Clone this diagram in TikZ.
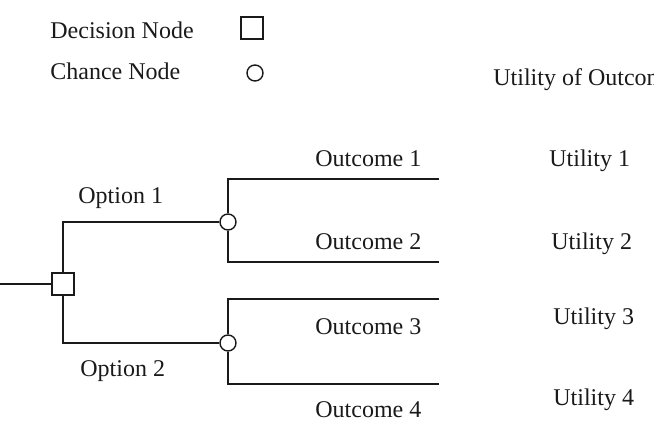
\documentclass[tikz,border=0pt]{standalone}
\usepackage{fontspec}
\setmainfont{Liberation Serif}
\usetikzlibrary{positioning}
\definecolor{TreeInk}{HTML}{1A1A1A}
\tikzset{
  decisionbox/.style={draw=TreeInk, fill=white, line width=0.7pt, rectangle, minimum size=11pt, inner sep=0pt},
  chancedot/.style={draw=TreeInk, fill=white, line width=0.7pt, circle, minimum size=8pt, inner sep=0pt},
  branch/.style={draw=TreeInk, line width=0.7pt},
  treelabel/.style={anchor=base west, inner sep=0pt, text=TreeInk, font=\fontsize{12pt}{14pt}\selectfont}
}

\begin{document}
\begin{tikzpicture}[x=0.5pt, y=-0.5pt]
  \clip (0,0) rectangle (654,426);
  % legend
  \node[treelabel] (legdec) at (50,39) {Decision Node};
  \node[decisionbox] (legbox) at (252,28) {};
  \node[treelabel] (legchance) at (50,80) {Chance Node};
  \node[chancedot] (legdot) at (255,73) {};
  \node[treelabel] (utilhead) at (493,86) {Utility of Outcome};
  % tree: branch ends
  \coordinate (root) at (0,284);
  \coordinate (end1) at (439,179);
  \coordinate (end2) at (439,262);
  \coordinate (end3) at (439,299);
  \coordinate (end4) at (439,384);
  % decision and chance nodes
  \node[decisionbox] (dec) at (63,284) {};
  \node[chancedot] (ch1) at (228,222) {};
  \node[chancedot] (ch2) at (228,343) {};
  \draw[branch] (root) -- (dec.west);
  \draw[branch] (dec.north) |- (ch1.west);
  \draw[branch] (dec.south) |- (ch2.west);
  \draw[branch] (ch1.north) |- (end1);
  \draw[branch] (ch1.south) |- (end2);
  \draw[branch] (ch2.north) |- (end3);
  \draw[branch] (ch2.south) |- (end4);
  % branch labels
  \node[treelabel] (opt1) at (78,204) {Option 1};
  \node[treelabel] (opt2) at (80,377) {Option 2};
  \node[treelabel] (out1) at (315,167) {Outcome 1};
  \node[treelabel] (out2) at (315,250) {Outcome 2};
  \node[treelabel] (out3) at (315,335) {Outcome 3};
  \node[treelabel] (out4) at (315,418) {Outcome 4};
  % utilities
  \node[treelabel] (util1) at (549,167) {Utility 1};
  \node[treelabel] (util2) at (551,250) {Utility 2};
  \node[treelabel] (util3) at (553,325) {Utility 3};
  \node[treelabel] (util4) at (553,406) {Utility 4};
\end{tikzpicture}
\end{document}
